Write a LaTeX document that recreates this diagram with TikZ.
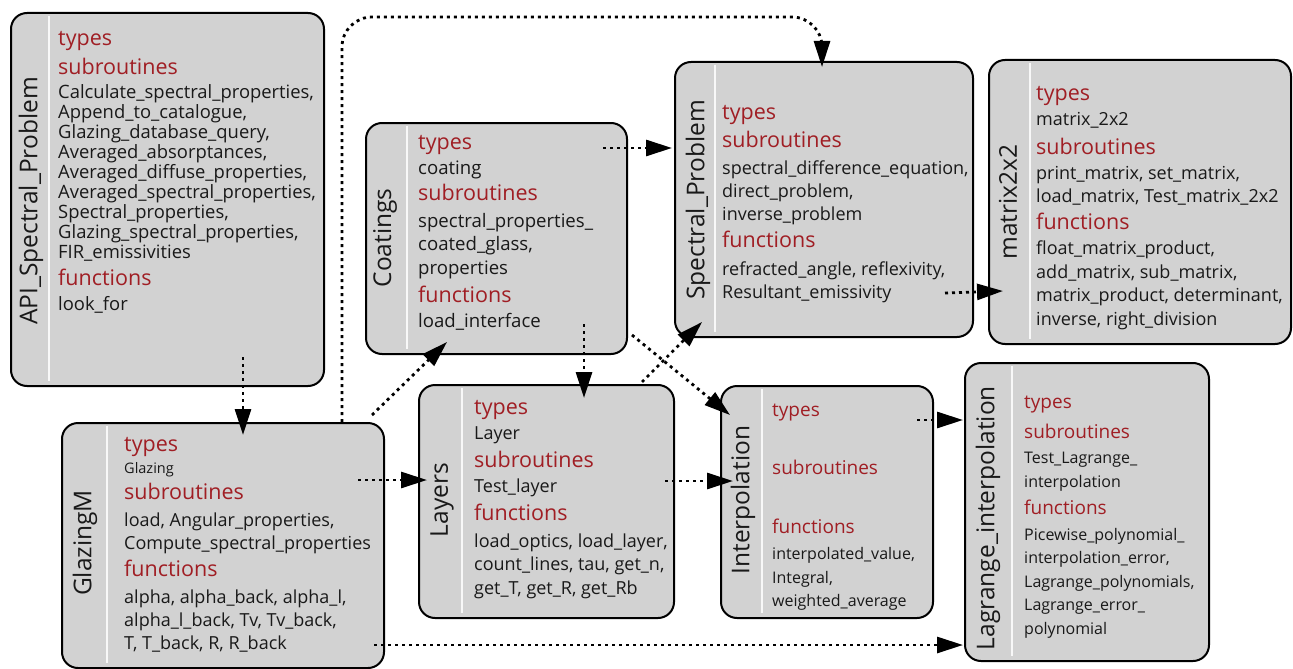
\documentclass[tikz,border=0pt]{standalone}
\usepackage{fontspec}
\setmainfont{Open Sans}
\usetikzlibrary{arrows.meta,calc}
\definecolor{hdred}{RGB}{160,30,36}
\definecolor{boxgray}{RGB}{210,210,210}
\definecolor{txtgray}{RGB}{25,25,25}
\newcommand{\hd}[2][21.5]{{\color{hdred}\fontsize{#1}{20}\selectfont #2}}

\begin{document}
\begin{tikzpicture}[x=1pt,y=-1pt,
	modbox/.style={draw=black, line width=2pt, fill=boxgray, rounded corners=16pt, anchor=north west, inner sep=0pt},
	sepline/.style={draw=white!85!boxgray, line width=2pt},
	modtitle/.style={rotate=90, font=\fontsize{24.5}{24}\selectfont, text=txtgray},
	modtext/.style={anchor=north west, align=left, inner sep=0pt, text=txtgray},
	link/.style={line width=2.8pt, dash pattern=on 3pt off 4pt, -{Triangle[length=26pt,width=16pt]}}]
	\useasboundingbox (0,0) rectangle (1293,669);

	% boxes
	\node[modbox, minimum width=313pt, minimum height=373pt] (api) at (10,12) {};
	\node[modbox, minimum width=261pt, minimum height=231pt] (coat) at (365,122) {};
	\node[modbox, minimum width=298pt, minimum height=275pt] (spec) at (674,61) {};
	\node[modbox, minimum width=302pt, minimum height=284pt] (mat) at (988,59) {};
	\node[modbox, minimum width=322pt, minimum height=245pt] (glz) at (61,422) {};
	\node[modbox, minimum width=255pt, minimum height=233pt] (lay) at (418,384) {};
	\node[modbox, minimum width=212pt, minimum height=232pt] (intp) at (720,385) {};
	\node[modbox, minimum width=244pt, minimum height=298pt] (lag) at (964,362) {};

	\draw[sepline] (49,16) -- (49,381);
	\draw[sepline] (407,126) -- (407,349);
	\draw[sepline] (715,65) -- (715,332);
	\draw[sepline] (1030,63) -- (1030,339);
	\draw[sepline] (107,426) -- (107,663);
	\draw[sepline] (462,388) -- (462,613);
	\draw[sepline] (762,389) -- (762,613);
	\draw[sepline] (1012,366) -- (1012,656);

	% titles
	\node[modtitle] (apit) at (31,201) {API\_Spectral\_Problem};
	\node[modtitle] (coatt) at (385,238) {Coatings};
	\node[modtitle] (spect) at (698,200) {Spectral\_Problem};
	\node[modtitle] (matt) at (1008,202) {matrix2x2};
	\node[modtitle] (glzt) at (85,543) {GlazingM};
	\node[modtitle] (layt) at (442,500) {Layers};
	\node[modtitle] (intpt) at (743,500) {Interpolation};
	\node[modtitle] (lagt) at (988,518) {Lagrange\_interpolation};

	% contents
	\node[modtext, font=\fontsize{18.4}{20}\selectfont] (apic) at (58,31) {\hd{types}\\[7pt]
		\hd{subroutines}\\[4pt]
		Calculate\_spectral\_properties,\\
		Append\_to\_catalogue,\\
		Glazing\_database\_query,\\
		Averaged\_absorptances,\\
		Averaged\_diffuse\_properties,\\
		Averaged\_spectral\_properties,\\
		Spectral\_properties,\\
		Glazing\_spectral\_properties,\\
		FIR\_emissivities\\[7pt]
		\hd{functions}\\[5pt]
		look\_for};
	\node[modtext, font=\fontsize{18.6}{23.5}\selectfont] (coatc) at (418,135) {\hd{types}\\[1.5pt]
		coating\\[2.5pt]
		\hd{subroutines}\\[3.5pt]
		spectral\_properties\_\\
		coated\_glass,\\
		properties\\[4.5pt]
		\hd{functions}\\[1.5pt]
		load\_interface};
	\node[modtext, font=\fontsize{18}{23}\selectfont] (specc) at (722,105) {\hd{types}\\[5pt]
		\hd{subroutines}\\[4pt]
		spectral\_difference\_equation,\\
		direct\_problem,\\
		inverse\_problem\\[4pt]
		\hd{functions}\\[5pt]
		refracted\_angle, reflexivity,\\
		Resultant\_emissivity};
	\node[modtext, font=\fontsize{18}{23.5}\selectfont] (matc) at (1036,86) {\hd{types}\\[1.5pt]
		matrix\_2x2\\[5.5pt]
		\hd{subroutines}\\[1.5pt]
		print\_matrix, set\_matrix,\\
		load\_matrix, Test\_matrix\_2x2\\[3.5pt]
		\hd{functions}\\[1.5pt]
		float\_matrix\_product,\\
		add\_matrix, sub\_matrix,\\
		matrix\_product, determinant,\\
		inverse, right\_division};
	\node[modtext, font=\fontsize{18}{23}\selectfont] (glzc) at (124,437) {\hd{types}\\[-1pt]
		{\fontsize{14.5}{14}\selectfont Glazing}\\[3pt]
		\hd{subroutines}\\[4pt]
		load, Angular\_properties,\\
		Compute\_spectral\_properties\\[4pt]
		\hd{functions}\\[4pt]
		alpha, alpha\_back, alpha\_l,\\
		alpha\_l\_back, Tv, Tv\_back,\\
		T, T\_back, R, R\_back};
	\node[modtext, font=\fontsize{18}{23.5}\selectfont] (layc) at (474,400) {\hd{types}\\[1.5pt]
		Layer\\[4.5pt]
		\hd{subroutines}\\[1.5pt]
		Test\_layer\\[4.5pt]
		\hd{functions}\\[3.5pt]
		load\_optics, load\_layer,\\
		count\_lines, tau, get\_n,\\
		get\_T, get\_R, get\_Rb};
	\node[modtext, font=\fontsize{16}{23.5}\selectfont] (intpc) at (772,404) {\hd[19]{types}\\[34.5pt]
		\hd[19]{subroutines}\\[35.5pt]
		\hd[19]{functions}\\[2.5pt]
		interpolated\_value,\\
		Integral,\\
		weighted\_average};
	\node[modtext, font=\fontsize{16}{23.5}\selectfont] (lagc) at (1024,396) {\hd[19]{types}\\[6.5pt]
		\hd[19]{subroutines}\\[1.5pt]
		Test\_Lagrange\_\\
		interpolation\\[3.5pt]
		\hd[19]{functions}\\[2.5pt]
		Picewise\_polynomial\_\\
		interpolation\_error,\\
		Lagrange\_polynomials,\\
		Lagrange\_error\_\\
		polynomial};

	% links
	\draw[link] ($(api.south west)+(233,-30)$) -- ($(glz.north west)+(182,13)$);
	\draw[link, rounded corners=30pt] ($(glz.north west)+(281,0)$) |- ($(spec.north west)+(148,-44)$) -- ($(spec.north west)+(148,6)$);
	\draw[link] ($(glz.north east)+(-13,-7)$) -- ($(coat.south west)+(82,-13)$);
	\draw[link] ($(glz.north east)+(-27,58)$) -- ($(lay.north west)+(9,96)$);
	\draw[link] ($(glz.south east)+(-11,-24)$) -- ($(lag.south west)+(-1,-17)$);
	\draw[link] ($(coat.north east)+(-25,26)$) -- ($(spec.north west)+(-2,87)$);
	\draw[link] ($(coat.south west)+(219,-31)$) -- ($(lay.north west)+(166,14)$);
	\draw[link] ($(coat.south east)+(4,-20)$) -- ($(intp.north west)+(10,30)$);
	\draw[link] ($(lay.north east)+(-33,-2)$) -- ($(spec.south west)+(28,-16)$);
	\draw[link] ($(lay.north east)+(-10,97)$) -- ($(intp.north west)+(13,96)$);
	\draw[link] ($(spec.south east)+(-29,-45)$) -- ($(mat.north west)+(15,232)$);
	\draw[link] ($(intp.north east)+(-17,35)$) -- ($(lag.north west)+(-1,58)$);
\end{tikzpicture}
\end{document}
